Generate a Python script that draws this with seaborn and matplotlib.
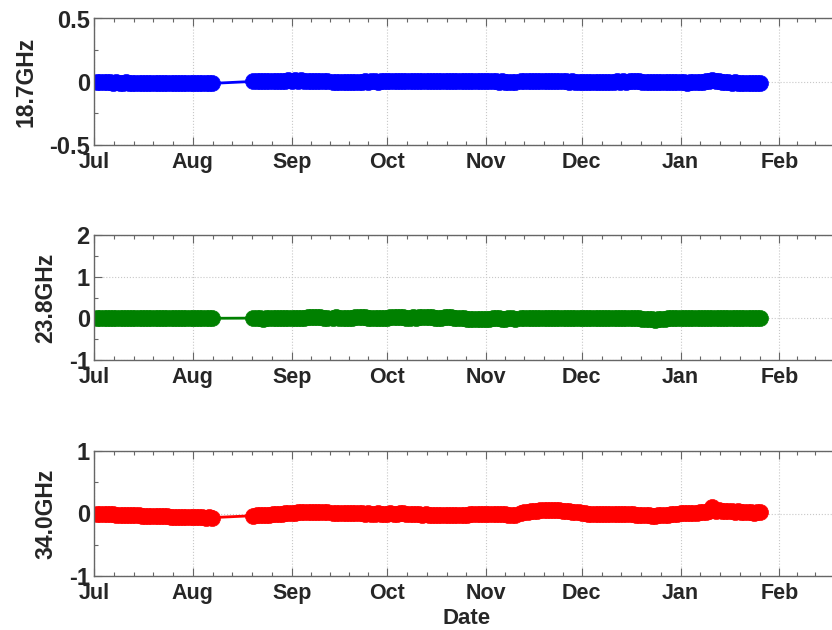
import numpy as np
import pandas as pd
import matplotlib
matplotlib.use("Agg")
import matplotlib.pyplot as plt
import matplotlib.dates as mdates
from matplotlib.ticker import MultipleLocator, FixedLocator, FuncFormatter
import seaborn as sns

# Observation segments: first day of each run and its number of daily samples
SEGMENT_STARTS = ["2013-07-02", "2013-08-20", "2013-09-14", "2013-11-12"]
SEGMENT_DAYS = [37, 24, 58, 76]

CHANNELS = ["18.7GHz", "23.8GHz", "34.0GHz"]
COLORS = ["#0000ff", "#008000", "#ff0000"]
YLIMS = [(-0.5, 0.5), (-1, 2), (-1, 1)]
YMAJOR = [0.5, 1, 1]

tb_187 = [
    -0.002, -0.004, -0.003, -0.005, -0.004, -0.006, -0.005, -0.007, -0.006, -0.005,
    -0.007, -0.008, -0.006, -0.008, -0.009, -0.007, -0.009, -0.010, -0.008, -0.009,
    -0.010, -0.011, -0.009, -0.010, -0.011, -0.010, -0.012, -0.011, -0.010, -0.012,
    -0.011, -0.013, -0.012, -0.011, -0.013, -0.012, -0.013,
    0.002, 0.004, 0.003, 0.005, 0.006, 0.005, 0.007, 0.008, 0.006, 0.008,
    0.009, 0.010, 0.008, 0.011, 0.009, 0.010, 0.008, 0.009, 0.007, 0.008,
    0.006, 0.007, 0.005, 0.006,
    0.001, 0.000, -0.001, 0.001, 0.000, -0.002, 0.000, 0.001, -0.001, 0.000,
    0.002, 0.001, 0.003, 0.002, 0.001, 0.003, 0.002,
    0.004, 0.003, 0.002, 0.004, 0.005, 0.003, 0.006, 0.004, 0.005, 0.007,
    0.005, 0.008, 0.006, 0.005, 0.007, 0.006, 0.004, 0.006, 0.005, 0.007,
    0.006, 0.008, 0.006, 0.005, 0.007, 0.005, 0.004, 0.006, 0.005, 0.004,
    0.003,
    0.004, 0.003, 0.002, 0.003, 0.001, 0.002, 0.000, -0.002, -0.003, -0.004,
    0.004, 0.006, 0.007, 0.006, 0.008, 0.007, 0.006, 0.005, 0.006, 0.004,
    0.005, 0.003, 0.004, 0.002, 0.003, 0.001, 0.002, 0.000, 0.001,
    0.000, -0.001, 0.001, -0.002, 0.000, -0.001, -0.002, 0.000, -0.001, 0.001,
    0.000, 0.002, 0.001, 0.003, 0.001, 0.002, 0.004, 0.002, 0.003, 0.001,
    0.000, -0.001, -0.003, -0.002, -0.004, -0.003, -0.005, -0.004, -0.003, -0.005,
    -0.004,
    -0.005, -0.004, -0.006, -0.003, -0.004, -0.002, -0.003, -0.001, 0.002, 0.005,
    0.012, 0.008, 0.006, 0.001, -0.003, -0.004, -0.006, -0.005, -0.007, -0.006,
    -0.008, -0.007, -0.008, -0.009, -0.008, -0.009,
]

tb_238 = [
    0.002, 0.000, 0.001, -0.002, 0.001, 0.000, -0.001, 0.002, 0.000, -0.002,
    0.001, 0.000, 0.002, -0.001, 0.000, 0.001, -0.002, 0.000, 0.002, 0.001,
    -0.001, 0.000, 0.002, -0.001, 0.001, 0.000, -0.002, 0.001, 0.000, 0.002,
    -0.001, 0.001, 0.000, 0.002, -0.001, 0.000, 0.001,
    0.005, 0.010, 0.004, -0.008, 0.006, 0.012, 0.020, 0.008, 0.002, 0.010,
    0.006, 0.014, 0.008, 0.004, 0.012, 0.018, 0.010, 0.022, 0.030, 0.024,
    0.026, 0.034, 0.020, 0.015,
    0.020, 0.025, 0.015, 0.010, 0.018, 0.012, 0.020, 0.028, 0.035, 0.030,
    0.022, 0.018, 0.012, 0.020, 0.015, 0.010, 0.012,
    0.018, 0.025, 0.030, 0.040, 0.035, 0.028, 0.020, 0.015, 0.022, 0.018,
    0.025, 0.030, 0.036, 0.030, 0.024, 0.018, 0.012, 0.020, 0.025, 0.032,
    0.028, 0.020, 0.010, 0.005, 0.000, -0.005, -0.012, -0.015, -0.010, -0.018,
    -0.012,
    -0.008, -0.005, 0.000, 0.005, -0.002, -0.008, -0.004, 0.002, 0.000, -0.005,
    0.005, 0.010, 0.008, 0.012, 0.006, 0.010, 0.004, 0.008, 0.012, 0.006,
    0.002, 0.008, 0.005, 0.010, 0.004, 0.000, 0.006, 0.002, 0.005,
    0.008, 0.004, 0.010, 0.006, 0.012, 0.008, 0.004, 0.010, 0.014, 0.008,
    0.012, 0.006, 0.010, 0.015, 0.008, 0.004, 0.010, 0.006, 0.002, -0.004,
    -0.010, -0.018, -0.025, -0.030, -0.020, -0.012, -0.005, 0.000, 0.004, 0.008,
    0.010,
    0.012, 0.016, 0.010, 0.014, 0.018, 0.012, 0.008, 0.015, 0.020, 0.016,
    0.010, 0.014, 0.018, 0.012, 0.008, 0.012, 0.016, 0.010, 0.006, 0.010,
    0.014, 0.008, 0.005, 0.010, 0.006, 0.004,
]

tb_340 = [
    0.000, -0.004, -0.008, -0.012, -0.010, -0.015, -0.018, -0.016, -0.020, -0.024,
    -0.022, -0.026, -0.030, -0.028, -0.032, -0.036, -0.034, -0.038, -0.042, -0.040,
    -0.044, -0.046, -0.044, -0.048, -0.052, -0.050, -0.054, -0.056, -0.053, -0.058,
    -0.060, -0.057, -0.062, -0.060, -0.064, -0.062, -0.066,
    -0.035, -0.030, -0.026, -0.028, -0.020, -0.016, -0.012, -0.008, -0.004, 0.000,
    0.004, 0.008, 0.012, 0.016, 0.020, 0.022, 0.025, 0.020, 0.024, 0.018,
    0.022, 0.026, 0.020, 0.018,
    0.010, 0.012, 0.008, 0.010, 0.006, 0.004, 0.008, 0.005, 0.002, 0.004,
    0.000, 0.003, -0.002, 0.000, 0.002, -0.004, 0.000,
    -0.002, 0.002, 0.000, -0.004, 0.002, 0.006, 0.000, -0.004, -0.008, -0.006,
    -0.012, -0.016, -0.014, -0.018, -0.022, -0.020, -0.024, -0.028, -0.024, -0.026,
    -0.030, -0.026, -0.022, -0.020, -0.016, -0.018, -0.014, -0.010, -0.012, -0.008,
    -0.006,
    -0.004, -0.008, -0.004, 0.000, -0.006, -0.010, -0.014, -0.018, -0.022, -0.020,
    0.010, 0.020, 0.028, 0.034, 0.040, 0.046, 0.052, 0.056, 0.060, 0.058,
    0.054, 0.056, 0.050, 0.046, 0.042, 0.036, 0.030, 0.024, 0.018,
    0.012, 0.006, 0.000, -0.006, -0.008, -0.004, -0.010, -0.006, -0.002, -0.006,
    -0.004, 0.000, -0.004, -0.008, -0.012, -0.010, -0.014, -0.018, -0.022, -0.026,
    -0.030, -0.028, -0.032, -0.034, -0.030, -0.026, -0.022, -0.016, -0.012, -0.006,
    -0.002,
    0.002, 0.006, 0.004, 0.010, 0.014, 0.012, 0.018, 0.024, 0.030, 0.034,
    0.110, 0.045, 0.052, 0.048, 0.040, 0.040, 0.034, 0.030, 0.036, 0.030,
    0.024, 0.028, 0.020, 0.016, 0.020, 0.018,
]

dates = pd.DatetimeIndex(np.concatenate([
    pd.date_range(start, periods=n, freq="D").values
    for start, n in zip(SEGMENT_STARTS, SEGMENT_DAYS)
]))
df = pd.DataFrame({"Date": dates, CHANNELS[0]: tb_187,
                   CHANNELS[1]: tb_238, CHANNELS[2]: tb_340})

sns.set_theme(style="ticks")
plt.rcParams["font.family"] = ["Liberation Sans", "DejaVu Sans"]
plt.rcParams["font.weight"] = "bold"
plt.rcParams["axes.labelweight"] = "bold"

fig = plt.figure(figsize=(8.32, 6.30), dpi=100)
W, H = 832, 630
left, width = 94 / W, 746 / W
boxes = [(18.5, 145), (235, 360), (451, 576)]

xmin = pd.Timestamp("2013-07-01")
xmax = pd.Timestamp("2014-02-20")
month_ticks = pd.date_range("2013-07-01", "2014-03-01", freq="MS")
minor = []
for a, b in zip(month_ticks[:-1], month_ticks[1:]):
    na, nb = mdates.date2num(a), mdates.date2num(b)
    minor += list(np.linspace(na, nb, 6)[1:-1])

spine_color = "#666666"
for i, (ch, col, (ylo, yhi), ymaj, (top, bot)) in enumerate(
        zip(CHANNELS, COLORS, YLIMS, YMAJOR, boxes)):
    ax = fig.add_axes([left, 1 - bot / H, width, (bot - top) / H])
    sns.lineplot(data=df, x="Date", y=ch, ax=ax, color=col, linewidth=2,
                 marker="o", markersize=11.5, markeredgecolor=col,
                 markeredgewidth=0.5, estimator=None, sort=False)
    ax.set_xlim(xmin, xmax)
    ax.set_ylim(ylo, yhi)
    ax.xaxis.set_major_locator(FixedLocator(mdates.date2num(month_ticks)))
    ax.xaxis.set_minor_locator(FixedLocator(minor))
    ax.xaxis.set_major_formatter(mdates.DateFormatter("%b"))
    ax.yaxis.set_major_locator(MultipleLocator(ymaj))
    ax.yaxis.set_minor_locator(MultipleLocator(ymaj / 2))
    ax.yaxis.set_major_formatter(FuncFormatter(lambda v, p: f"{v:g}"))
    ax.grid(True, which="major", linestyle=":", color="#c8c8c8", linewidth=0.8)
    ax.tick_params(which="both", direction="in", top=True, right=True,
                   color=spine_color)
    ax.tick_params(axis="x", which="major", labelsize=15.5, pad=5)
    ax.tick_params(axis="y", which="major", labelsize=17, pad=3)
    ax.tick_params(which="major", length=6, width=0.8)
    ax.tick_params(which="minor", length=3, width=0.8)
    for lab in ax.get_xticklabels() + ax.get_yticklabels():
        lab.set_fontweight("bold")
    for s in ax.spines.values():
        s.set_color(spine_color)
        s.set_linewidth(1.0)
    ax.set_ylabel(ch, fontsize=16.5, fontweight="bold", labelpad=8)
    if i == 2:
        ax.set_xlabel("Date", fontsize=16, fontweight="bold", labelpad=3)
    else:
        ax.set_xlabel("")

fig.savefig("out.png", dpi=100)
